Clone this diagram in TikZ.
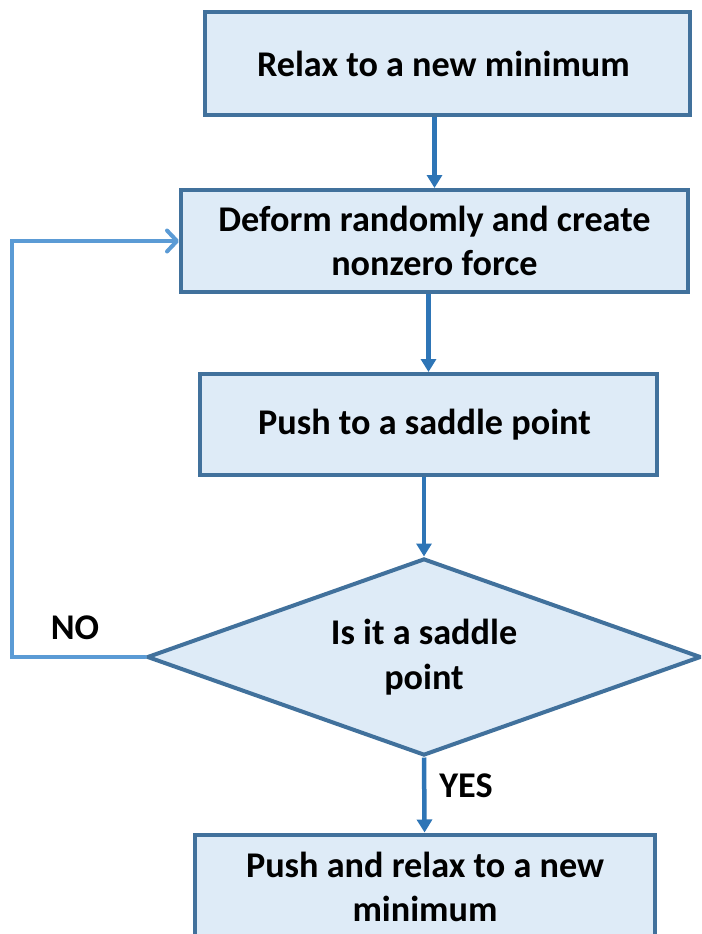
\documentclass[tikz,border=0pt]{standalone}
\usepackage{fontspec}
\setmainfont{Carlito}
\usetikzlibrary{shapes.geometric,arrows.meta}
\definecolor{boxfill}{HTML}{DEEBF7}
\definecolor{boxline}{HTML}{41719C}
\definecolor{flowline}{HTML}{2E75B6}
\definecolor{loopline}{HTML}{5B9BD5}
\tikzset{
  stepbox/.style={rectangle, draw=boxline, fill=boxfill, line width=0.08cm,
    align=center, inner sep=0pt},
  testbox/.style={diamond, draw=boxline, fill=boxfill, line width=0.08cm,
    align=center, inner sep=0pt, shape aspect=2.81},
  flow/.style={draw=flowline, line width=0.09cm,
    -{Triangle[length=0.26cm, width=0.3cm]}},
  backflow/.style={draw=loopline, line width=0.08cm, line cap=round,
    -{Straight Barb[length=0.2cm, width=0.42cm, round]}},
}
\begin{document}
\begin{tikzpicture}
                    \useasboundingbox (0,0) rectangle (14.020000,-18.680000);
                    \clip (0,0) rectangle (14.020000,-18.680000);
                    {\fontsize{20.6}{25.5}\selectfont\bfseries
                    
                    % Box relax
                    \node [stepbox, minimum width=9.700000cm, minimum height=2.060000cm] (relax) at (8.950000,-1.270000) { Relax to a new minimum };%
                    
                    % Box deform
                    \node [stepbox, minimum width=10.140000cm, minimum height=2.040000cm] (deform) at (8.690000,-4.820000) { Deform randomly and create\\ nonzero force };%
                    
                    % Box push
                    \node [stepbox, minimum width=9.140000cm, minimum height=2.020000cm] (push) at (8.570000,-8.490000) { Push to a saddle point };%
                    
                    % Diamond saddle
                    \node [testbox, minimum width=11.080000cm, minimum height=3.940000cm] (saddle) at (8.480000,-13.140000) { Is it a saddle\\ point };%
                    
                    % Box final
                    \node [stepbox, minimum width=9.200000cm, minimum height=2.100000cm] (final) at (8.500000,-17.740000) { Push and relax to a new\\ minimum };%
                    
                    % Labels NO and YES
                    \node (no) at (1.500000,-12.560000) { NO };%
                    \node (yes) at (9.320000,-15.720000) { YES };%
                    
                    % Drawing arrows
                    \draw [flow] (relax.south -| deform) -- (deform);%
                    \draw [flow] (deform.south -| push) -- (push);%
                    \draw [flow] (push.south -| saddle) -- (saddle);%
                    \draw [flow] (saddle.south) -- (final);%
                    
                    % Drawing loop back
                    \draw [backflow] (saddle.west) -- ++(-2.660000,0) |- (deform.west);%
                    }
                \end{tikzpicture}
\end{document}
